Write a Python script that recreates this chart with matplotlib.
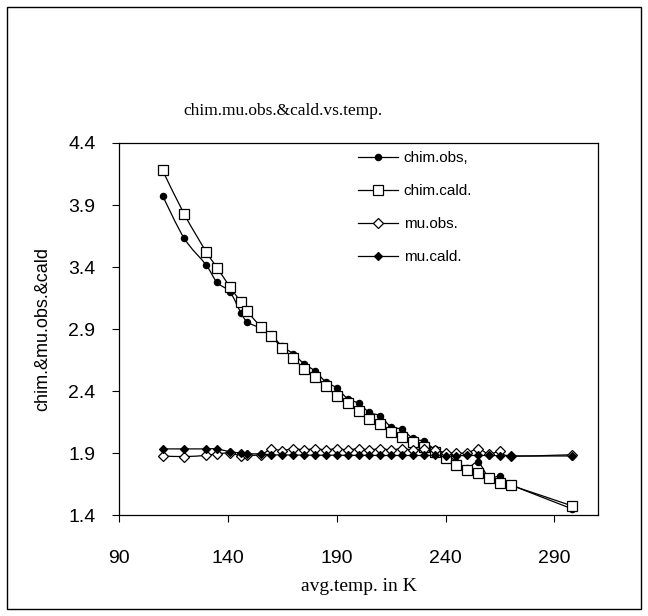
import matplotlib
matplotlib.use("Agg")
import matplotlib.pyplot as plt
from matplotlib.patches import Rectangle, PathPatch
from matplotlib.path import Path
from matplotlib.lines import Line2D

# data
temp = [110, 120, 130, 135, 141, 146, 149, 155, 160, 165, 170, 175, 180, 185,
        190, 195, 200, 205, 210, 215, 220, 225, 230, 235, 240, 245, 250, 255,
        260, 265, 270, 298]
chim_obs = [3.975, 3.63, 3.417, 3.276, 3.198, 3.03, 2.956, 2.906, 2.85, 2.76,
            2.70, 2.62, 2.561, 2.474, 2.424, 2.338, 2.301, 2.227, 2.198, 2.109,
            2.091, 2.017, 1.993, 1.931, 1.894, 1.83, 1.78, 1.824, 1.70, 1.713,
            1.645, 1.45]
chim_cald = [4.18, 3.825, 3.524, 3.395, 3.239, 3.116, 3.042, 2.92, 2.84, 2.746,
             2.666, 2.58, 2.511, 2.437, 2.363, 2.301, 2.239, 2.178, 2.13, 2.07,
             2.025, 1.985, 1.951, 1.906, 1.86, 1.80, 1.766, 1.735, 1.70, 1.659,
             1.639, 1.474]
mu_obs = [1.876, 1.871, 1.881, 1.893, 1.90, 1.876, 1.88, 1.887, 1.93, 1.92,
          1.935, 1.925, 1.935, 1.925, 1.935, 1.925, 1.935, 1.925, 1.935, 1.925,
          1.935, 1.925, 1.935, 1.925, 1.90, 1.90, 1.90, 1.936, 1.89, 1.916,
          1.876, 1.886]
mu_cald = [1.933, 1.933, 1.933, 1.933, 1.91, 1.90, 1.893, 1.893, 1.885, 1.885,
           1.883, 1.883, 1.882, 1.882, 1.882, 1.881, 1.881, 1.881, 1.880, 1.880,
           1.880, 1.880, 1.880, 1.880, 1.879, 1.878, 1.88, 1.88, 1.88, 1.878,
           1.876, 1.876]

title = "chim.mu.obs.&cald.vs.temp."
xlabel = "avg.temp. in K"
ylabel = "chim.&mu.obs.&cald"
xticks = [90, 140, 190, 240, 290]
yticks = [1.4, 1.9, 2.4, 2.9, 3.4, 3.9, 4.4]


def smooth_path(xs, ys):
    """Excel-style smoothed line: cubic Bezier through the data points."""
    n = len(xs)
    verts = [(xs[0], ys[0])]
    codes = [Path.MOVETO]
    for i in range(n - 1):
        x0, y0 = (xs[i - 1], ys[i - 1]) if i > 0 else (xs[i], ys[i])
        x1, y1 = xs[i], ys[i]
        x2, y2 = xs[i + 1], ys[i + 1]
        x3, y3 = (xs[i + 2], ys[i + 2]) if i + 2 < n else (x2, y2)
        c1 = (x1 + (x2 - x0) / 6, y1 + (y2 - y0) / 6)
        c2 = (x2 - (x3 - x1) / 6, y2 - (y3 - y1) / 6)
        verts += [c1, c2, (x2, y2)]
        codes += [Path.CURVE4] * 3
    return Path(verts, codes)


W, H = 648, 616
fig = plt.figure(figsize=(W / 100, H / 100), dpi=100)
fig.patches.append(Rectangle((7 / W, 7 / H), 634 / W, 602 / H,
                             transform=fig.transFigure, fill=False,
                             edgecolor="black", linewidth=1.0))
L, R, T, B = 119, 598, 143, 515
ax = fig.add_axes([L / W, 1 - B / H, (R - L) / W, (B - T) / H])

lw = 0.9
series = [
    (chim_obs, "chim.obs,", dict(marker="o", markersize=4.5, markerfacecolor="black")),
    (chim_cald, "chim.cald.", dict(marker="s", markersize=7.5, markerfacecolor="white")),
    (mu_obs, "mu.obs.", dict(marker="D", markersize=5.5, markerfacecolor="white")),
    (mu_cald, "mu.cald.", dict(marker="D", markersize=4, markerfacecolor="black")),
]
handles = []
for vals, lab, mk in series:
    ax.add_patch(PathPatch(smooth_path(temp, vals), facecolor="none",
                           edgecolor="black", lw=lw, zorder=2))
    ax.plot(temp, vals, ls="none", markeredgecolor="black",
            markeredgewidth=0.9, zorder=3, **mk)
    handles.append(Line2D([], [], color="black", lw=lw,
                          markeredgecolor="black", markeredgewidth=0.9,
                          label=lab, **mk))

ax.set_xlim(90, 310)
ax.set_ylim(1.4, 4.4)
ax.set_xticks(xticks)
ax.set_yticks(yticks)
ax.set_yticklabels([f"{v:.1f}" for v in yticks])
ax.tick_params(axis="y", direction="out", length=5, width=0.8,
               labelsize=14, pad=12)
ax.tick_params(axis="x", direction="out", length=5, width=0.8,
               labelsize=14, pad=20)
for lab in ax.get_xticklabels() + ax.get_yticklabels():
    lab.set_fontfamily("Liberation Sans")
for s in ax.spines.values():
    s.set_linewidth(0.9)

ax.set_xlabel(xlabel, fontfamily="Liberation Serif", fontsize=14, labelpad=8)
ax.set_ylabel(ylabel, fontfamily="Liberation Sans", fontsize=13, labelpad=12)
fig.text(283 / W, 1 - 111 / H, title, fontfamily="Liberation Serif",
         fontsize=12.5, ha="center", va="center")

ax.legend(handles=handles, loc="upper left", bbox_to_anchor=(0.47, 1.015),
          frameon=False, prop={"family": "Liberation Sans", "size": 11},
          handlelength=2.6, labelspacing=1.25, handletextpad=0.4)

fig.savefig("out.png", dpi=100)
